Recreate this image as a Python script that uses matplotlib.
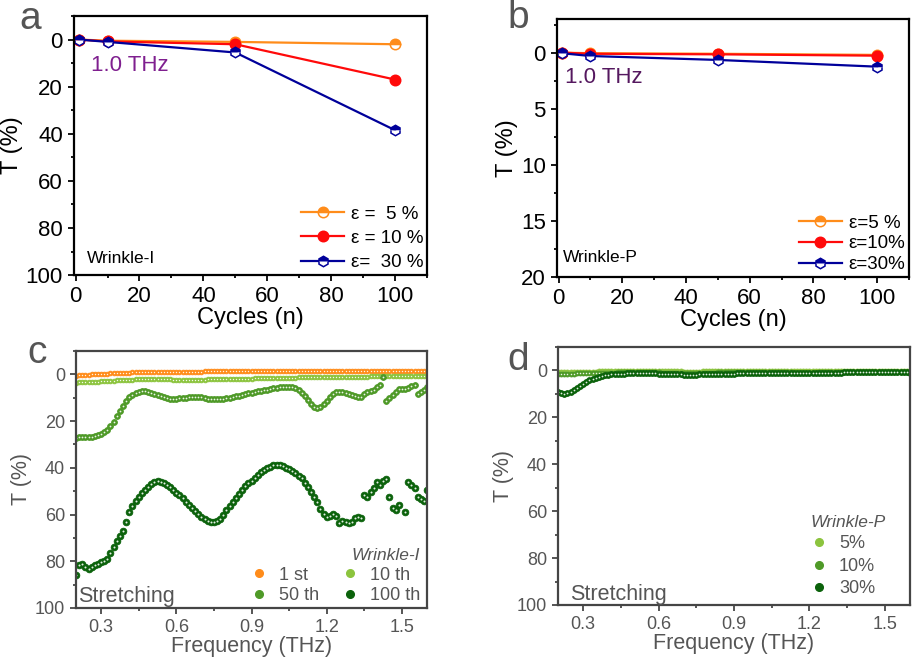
import numpy as np
import matplotlib
matplotlib.use("Agg")
import matplotlib.pyplot as plt
from matplotlib.lines import Line2D
from matplotlib.ticker import MultipleLocator

plt.rcParams['font.family'] = ['Liberation Sans', 'DejaVu Sans']

# ---------------- panels a / b : T at 1.0 THz versus cycles ----------------
cycles = [1, 10, 50, 100]

wi_5 = [0.0, 0.5, 1.0, 2.0]
wi_10 = [0.0, 0.8, 2.0, 17.0]
wi_30 = [0.0, 1.0, 5.5, 38.5]
wi_labels = ['ε =  5 %', 'ε = 10 %', 'ε=  30 %']

wp_5 = [0.0, 0.05, 0.1, 0.2]
wp_10 = [0.0, 0.1, 0.15, 0.27]
wp_30 = [0.05, 0.3, 0.65, 1.25]
wp_labels = ['ε=5 %', 'ε=10%', 'ε=30%']

# ---------------- panels c / d : T spectra ----------------
# measurement grid of the THz spectra (0.2 - 1.6 THz)
freq = np.linspace(0.2, 1.6, 113)

# Wrinkle-I, 1st / 10th / 50th / 100th cycle
wi_1st = [0.5, 0.4, 0.3, 0.2, 0.1, 0.0, -0.1, -0.1, -0.2, -0.3,
          -0.3, -0.4, -0.5, -0.5, -0.6, -0.6, -0.7, -0.7, -0.8, -0.8,
          -0.9, -0.9, -0.9, -1.0, -1.0, -1.0, -1.0, -1.1, -1.1, -1.1,
          -1.1, -1.1, -1.2, -1.2, -1.2, -1.2, -1.2, -1.2, -1.2, -1.2,
          -1.2, -1.3, -1.3, -1.3, -1.3, -1.3, -1.3, -1.3, -1.3, -1.3,
          -1.3, -1.3, -1.3, -1.3, -1.3, -1.3, -1.3, -1.3, -1.3, -1.3,
          -1.3, -1.3, -1.3, -1.3, -1.3, -1.4, -1.4, -1.4, -1.4, -1.4,
          -1.4, -1.4, -1.4, -1.4, -1.4, -1.4, -1.4, -1.4, -1.4, -1.4,
          -1.4, -1.4, -1.4, -1.4, -1.4, -1.4, -1.4, -1.4, -1.4, -1.4,
          -1.4, -1.4, -1.4, -1.4, -1.4, -1.4, -1.4, -1.4, -1.4, -1.4,
          -1.4, -1.4, -1.4, -1.4, -1.4, -1.4, -1.4, -1.4, -1.4, -1.4,
          -1.4, -1.4, -1.4]
wi_10th = [3.5, 3.4, 3.4, 3.3, 3.3, 3.2, 3.2, 3.1, 3.0, 3.0,
           2.9, 2.8, 2.7, 2.6, 2.6, 2.5, 2.4, 2.3, 2.3, 2.2,
           2.1, 2.1, 2.0, 2.0, 2.0, 2.0, 2.0, 2.1, 2.1, 2.2,
           2.2, 2.3, 2.3, 2.3, 2.4, 2.4, 2.4, 2.4, 2.3, 2.3,
           2.3, 2.3, 2.2, 2.2, 2.2, 2.1, 2.1, 2.1, 2.0, 2.0,
           2.0, 1.9, 1.9, 1.9, 1.8, 1.8, 1.8, 1.7, 1.7, 1.7,
           1.6, 1.6, 1.6, 1.5, 1.5, 1.5, 1.5, 1.4, 1.4, 1.4,
           1.4, 1.3, 1.3, 1.3, 1.3, 1.3, 1.2, 1.2, 1.2, 1.2,
           1.1, 1.1, 1.1, 1.1, 1.1, 1.0, 1.0, 1.0, 1.0, 1.0,
           1.0, 1.0, 1.0, 1.0, 0.9, 0.9, 0.9, 0.9, 0.9, 0.9,
           0.9, 0.9, 0.9, 0.9, 0.9, 0.9, 0.9, 0.9, 0.9, 0.9,
           0.9, 0.9, 0.9]
wi_50th = [27.3, 27.0, 26.8, 26.7, 26.9, 27.0, 26.5, 26.0, 25.6, 24.8,
           24.0, 22.3, 20.2, 18.0, 15.8, 13.5, 11.5, 9.9, 8.7, 7.9,
           7.4, 7.1, 7.1, 7.4, 7.9, 8.4, 8.9, 9.3, 9.7, 10.1,
           10.4, 10.6, 10.5, 10.3, 10.1, 10.0, 9.9, 9.8, 9.7, 9.7,
           9.8, 10.1, 10.4, 10.6, 10.7, 10.7, 10.6, 10.5, 10.3, 10.0,
           9.7, 9.4, 9.1, 8.8, 8.5, 8.1, 7.8, 7.5, 7.3, 7.1,
           6.8, 6.6, 6.3, 6.0, 5.7, 5.4, 5.3, 5.3, 5.4, 5.6,
           6.0, 6.8, 8.0, 9.4, 11.0, 12.6, 13.8, 14.2, 13.8, 12.8,
           11.2, 9.8, 8.6, 7.7, 7.4, 7.5, 7.8, 8.3, 8.9, 9.4,
           9.7, 9.5, 8.4, 7.4, 7.0, 6.5, 5.6, 4.6, 1.0, 11.4,
           10.0, 9.0, 7.6, 6.3, 6.1, 6.1, 5.9, 4.8, 4.4, 8.3,
           7.5, 6.6, 5.4]
wi_100th = [86.0, 81.5, 81.0, 82.5, 83.5, 82.5, 81.5, 81.0, 80.5, 80.0,
            79.0, 76.5, 74.0, 71.5, 69.0, 67.0, 63.0, 58.8, 56.5, 54.3,
            52.4, 50.8, 49.5, 48.2, 46.8, 46.2, 45.8, 45.9, 46.4, 47.2,
            48.3, 49.4, 50.6, 51.8, 53.1, 54.5, 56.0, 57.4, 58.6, 59.8,
            61.0, 62.0, 62.7, 63.2, 63.4, 62.8, 62.0, 60.2, 58.0, 56.2,
            54.5, 52.8, 51.1, 49.5, 48.0, 46.6, 45.5, 44.4, 43.2, 42.0,
            41.0, 40.2, 39.6, 39.0, 38.9, 38.9, 39.2, 39.9, 40.5, 41.3,
            42.3, 43.3, 44.5, 46.3, 48.2, 50.5, 52.4, 54.5, 57.5, 59.8,
            61.0, 60.5, 59.8, 60.5, 63.8, 62.8, 63.0, 63.6, 63.2, 61.5,
            61.2, 61.3, 51.7, 52.4, 50.5, 48.5, 46.0, 47.4, 45.5, 44.9,
            52.4, 57.0, 58.0, 56.0, np.nan, 58.8, 46.0, 47.2, 48.5, 52.4,
            53.5, 54.2, 49.6]

# Wrinkle-P, 100 cycles at 5 / 10 / 30 % strain
wp_s5 = [0.8, 0.8, 0.8, 0.7, 0.7, 0.7, 0.6, 0.6, 0.6, 0.5,
         0.5, 0.5, 0.5, 0.4, 0.4, 0.4, 0.4, 0.4, 0.3, 0.3,
         0.3, 0.3, 0.3, 0.3, 0.3, 0.3, 0.3, 0.3, 0.3, 0.3,
         0.3, 0.3, 0.4, 0.4, 0.4, 0.4, 0.4, 0.4, 0.4, 0.4,
         0.5, 0.5, 0.5, 0.5, 0.5, 0.5, 0.4, 0.4, 0.4, 0.4,
         0.4, 0.3, 0.3, 0.3, 0.3, 0.3, 0.3, 0.3, 0.3, 0.3,
         0.3, 0.3, 0.3, 0.3, 0.3, 0.3, 0.3, 0.3, 0.3, 0.3,
         0.3, 0.3, 0.3, 0.4, 0.4, 0.4, 0.4, 0.4, 0.4, 0.4,
         0.4, 0.4, 0.4, 0.4, 0.3, 0.3, 0.3, 0.3, 0.3, 0.3,
         0.3, 0.3, 0.2, 0.2, 0.2, 0.2, 0.2, 0.2, 0.2, 0.2,
         0.2, 0.2, 0.2, 0.2, 0.2, 0.2, 0.2, 0.2, 0.3, 0.3,
         0.3, 0.3, 0.3]
wp_s10 = [1.6, 1.6, 1.5, 1.5, 1.4, 1.4, 1.3, 1.3, 1.2, 1.2,
          1.1, 1.1, 1.0, 1.0, 1.0, 0.9, 0.9, 0.9, 0.9, 0.8,
          0.8, 0.8, 0.8, 0.8, 0.8, 0.8, 0.8, 0.8, 0.8, 0.8,
          0.8, 0.8, 0.8, 0.9, 0.9, 0.9, 0.9, 0.9, 0.9, 0.9,
          1.0, 1.0, 1.0, 1.0, 1.0, 0.9, 0.9, 0.9, 0.9, 0.9,
          0.9, 0.8, 0.8, 0.8, 0.8, 0.8, 0.8, 0.7, 0.7, 0.7,
          0.7, 0.7, 0.7, 0.7, 0.7, 0.7, 0.7, 0.7, 0.7, 0.7,
          0.7, 0.7, 0.8, 0.8, 0.8, 0.9, 0.9, 0.9, 0.9, 0.9,
          0.9, 0.9, 0.9, 0.8, 0.8, 0.8, 0.8, 0.7, 0.7, 0.7,
          0.7, 0.6, 0.6, 0.6, 0.6, 0.5, 0.5, 0.5, 0.5, 0.5,
          0.5, 0.5, 0.5, 0.5, 0.5, 0.5, 0.5, 0.5, 0.6, 0.6,
          0.6, 0.7, 0.7]
wp_s30 = [9.0, 9.6, 9.9, 9.8, 9.3, 8.5, 7.6, 6.7, 5.8, 4.9,
          4.2, 3.6, 3.1, 2.7, 2.3, 2.0, 1.8, 1.7, 1.6, 1.5,
          1.4, 1.4, 1.3, 1.3, 1.3, 1.3, 1.3, 1.3, 1.3, 1.3,
          1.3, 1.3, 1.4, 1.4, 1.5, 1.5, 1.6, 1.6, 1.7, 1.7,
          1.8, 1.8, 1.8, 1.8, 1.8, 1.7, 1.7, 1.7, 1.6, 1.6,
          1.6, 1.5, 1.5, 1.5, 1.4, 1.4, 1.4, 1.3, 1.3, 1.3,
          1.2, 1.2, 1.2, 1.1, 1.1, 1.1, 1.1, 1.0, 1.0, 1.0,
          1.0, 1.0, 1.0, 1.1, 1.1, 1.2, 1.2, 1.3, 1.3, 1.3,
          1.3, 1.3, 1.3, 1.2, 1.2, 1.1, 1.1, 1.0, 1.0, 0.9,
          0.9, 0.8, 0.8, 0.7, 0.7, 0.6, 0.6, 0.6, 0.5, 0.5,
          0.5, 0.5, 0.5, 0.5, 0.5, 0.5, 0.5, 0.6, 0.6, 0.6,
          0.7, 0.8, 0.9]

ORANGE = '#FF8C1A'
RED = '#FF0A0A'
NAVY = '#00009A'
PURPLE_A = '#7F1F8F'
PURPLE_B = '#55185F'
G10 = '#8CC43E'
G50 = '#4F9A28'
G100 = '#0B620B'
GREY = '#555555'
FRAME = '#454545'


def style_axes(ax, color, lw):
    for s in ax.spines.values():
        s.set_linewidth(lw)
        s.set_color(color)
    ax.tick_params(which='both', direction='out', top=False, right=False,
                   color=color, width=lw * 0.8)
    ax.tick_params(which='major', length=4.5)
    ax.tick_params(which='minor', length=2.5)


def balls(ax, x, y, color, ms):
    """coloured spheres with a small white highlight, Origin style"""
    ax.plot(x, y, 'o', ls='none', ms=ms, mfc=color, mec=color, mew=0.6)
    ax.plot(x, y, 'o', ls='none', ms=ms * 0.3, mfc='white', mec='none', alpha=0.9)


fig = plt.figure(figsize=(9.17, 6.66), dpi=100)

# ---------------- a ----------------
ax = fig.add_axes([0.0807, 0.587, 0.385, 0.389])
style_axes(ax, 'black', 1.6)
mk = dict(ms=7.5, mew=1.1, lw=1.6)
ax.plot(cycles, wi_5, color=ORANGE, marker='o', fillstyle='top', mfc=ORANGE,
        mfcalt='white', mec=ORANGE, label=wi_labels[0], **mk)
ax.plot(cycles, wi_10, color=RED, marker='o', mfc=RED, mec=RED,
        label=wi_labels[1], **mk)
ax.plot(cycles, wi_30, color=NAVY, marker='h', fillstyle='top', mfc=NAVY,
        mfcalt='white', mec=NAVY, label=wi_labels[2], **mk)
ax.set_xlim(-0.5, 110)
ax.set_ylim(100, -10)
ax.xaxis.set_major_locator(MultipleLocator(20))
ax.xaxis.set_minor_locator(MultipleLocator(10))
ax.yaxis.set_major_locator(MultipleLocator(20))
ax.yaxis.set_minor_locator(MultipleLocator(10))
ax.tick_params(labelsize=16)
ax.set_xlabel('Cycles (n)', fontsize=17, labelpad=0)
ax.set_ylabel('T (%)', fontsize=17, labelpad=2)
ax.legend(loc='lower right', bbox_to_anchor=(1.0, 0.0), frameon=False,
          fontsize=13.5, handlelength=2.3, handletextpad=0.35,
          labelspacing=0.38, borderpad=0.2, borderaxespad=0)
ax.text(0.048, 0.807, '1.0 THz', transform=ax.transAxes, color=PURPLE_A,
        fontsize=16, va='center')
ax.text(0.037, 0.046, 'Wrinkle-I', transform=ax.transAxes, fontsize=12.5)
fig.text(0.021, 0.956, 'a', fontsize=28, color=GREY)

# ---------------- b ----------------
ax = fig.add_axes([0.6074, 0.584, 0.3839, 0.3875])
style_axes(ax, 'black', 1.6)
ax.plot(cycles, wp_5, color=ORANGE, marker='o', fillstyle='top', mfc=ORANGE,
        mfcalt='white', mec=ORANGE, label=wp_labels[0], **mk)
ax.plot(cycles, wp_10, color=RED, marker='o', mfc=RED, mec=RED,
        label=wp_labels[1], **mk)
ax.plot(cycles, wp_30, color=NAVY, marker='h', fillstyle='top', mfc=NAVY,
        mfcalt='white', mec=NAVY, label=wp_labels[2], **mk)
ax.set_xlim(-0.5, 110)
ax.set_ylim(20, -3)
ax.xaxis.set_major_locator(MultipleLocator(20))
ax.xaxis.set_minor_locator(MultipleLocator(10))
ax.yaxis.set_major_locator(MultipleLocator(5))
ax.yaxis.set_minor_locator(MultipleLocator(2.5))
ax.tick_params(labelsize=16)
ax.set_xlabel('Cycles (n)', fontsize=17, labelpad=0)
ax.set_ylabel('T (%)', fontsize=17, labelpad=2)
ax.legend(loc='lower right', bbox_to_anchor=(1.0, 0.0), frameon=False,
          fontsize=13.5, handlelength=2.3, handletextpad=0.35,
          labelspacing=0.2, borderpad=0.2, borderaxespad=0)
ax.text(0.023, 0.775, '1.0 THz', transform=ax.transAxes, color=PURPLE_B,
        fontsize=16, va='center')
ax.text(0.017, 0.058, 'Wrinkle-P', transform=ax.transAxes, fontsize=12.5)
fig.text(0.553, 0.958, 'b', fontsize=28, color=GREY)

# ---------------- c ----------------
ax = fig.add_axes([0.0829, 0.0871, 0.3828, 0.3859])
style_axes(ax, FRAME, 1.6)
balls(ax, freq, wi_1st, ORANGE, 3.4)
balls(ax, freq, wi_10th, G10, 3.4)
balls(ax, freq, wi_50th, G50, 4.2)
balls(ax, freq, wi_100th, G100, 4.8)
ax.set_xlim(0.2, 1.6)
ax.set_ylim(100, -10)
ax.xaxis.set_major_locator(MultipleLocator(0.3))
ax.xaxis.set_minor_locator(MultipleLocator(0.15))
ax.yaxis.set_major_locator(MultipleLocator(20))
ax.yaxis.set_minor_locator(MultipleLocator(10))
ax.tick_params(labelsize=13, labelcolor=GREY)
ax.set_xlabel('Frequency (THz)', fontsize=15.5, color=GREY, labelpad=0)
ax.set_ylabel('T (%)', fontsize=15.5, color=GREY, labelpad=2)
h = [Line2D([], [], ls='none', marker='o', ms=5.5, mfc=c, mec=c)
     for c in (ORANGE, G50, G10, G100)]
lg = ax.legend(h, ['1 st', '50 th', '10 th', '100 th'], ncol=2,
               loc='lower right', bbox_to_anchor=(0.99, 0.0), frameon=False,
               fontsize=13, handlelength=1.0, handletextpad=0.6,
               columnspacing=1.2, labelspacing=0.2, borderpad=0.2,
               borderaxespad=0, title='Wrinkle-I', alignment='right',
               title_fontproperties={'style': 'italic', 'size': 12.5})
for t in lg.get_texts():
    t.set_color(GREY)
lg.get_title().set_color(GREY)
ax.text(0.005, 0.025, 'Stretching', transform=ax.transAxes, fontsize=15.5,
        color=GREY)
fig.text(0.030, 0.455, 'c', fontsize=28, color=GREY)

# ---------------- d ----------------
ax = fig.add_axes([0.6085, 0.0916, 0.3839, 0.3874])
style_axes(ax, FRAME, 1.6)
balls(ax, freq, wp_s5, G10, 3.6)
balls(ax, freq, wp_s10, G50, 3.6)
balls(ax, freq, wp_s30, G100, 4.2)
ax.set_xlim(0.2, 1.6)
ax.set_ylim(100, -10)
ax.xaxis.set_major_locator(MultipleLocator(0.3))
ax.xaxis.set_minor_locator(MultipleLocator(0.15))
ax.yaxis.set_major_locator(MultipleLocator(20))
ax.yaxis.set_minor_locator(MultipleLocator(10))
ax.tick_params(labelsize=13, labelcolor=GREY)
ax.set_xlabel('Frequency (THz)', fontsize=15.5, color=GREY, labelpad=0)
ax.set_ylabel('T (%)', fontsize=15.5, color=GREY, labelpad=2)
h = [Line2D([], [], ls='none', marker='o', ms=5.5, mfc=c, mec=c)
     for c in (G10, G50, G100)]
lg = ax.legend(h, ['5%', '10%', '30%'], loc='lower right',
               bbox_to_anchor=(0.94, 0.016), frameon=False, fontsize=13,
               handlelength=1.0, handletextpad=0.6, labelspacing=0.3,
               borderpad=0.2, borderaxespad=0, title='Wrinkle-P',
               alignment='left',
               title_fontproperties={'style': 'italic', 'size': 12.5})
for t in lg.get_texts():
    t.set_color(GREY)
lg.get_title().set_color(GREY)
ax.text(0.034, 0.02, 'Stretching', transform=ax.transAxes, fontsize=15.5,
        color=GREY)
fig.text(0.553, 0.444, 'd', fontsize=28, color=GREY)

fig.savefig('out.png', dpi=100)
